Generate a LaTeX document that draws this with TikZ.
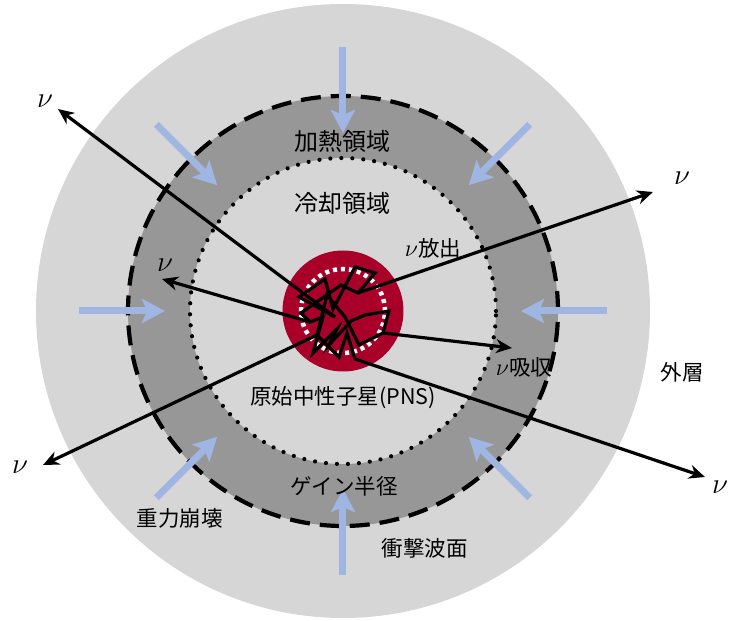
\documentclass[tikz,border=0pt]{standalone}
\usepackage{fix-cm}
\usepackage{fontspec}
\newfontfamily\jpfont{Noto Sans CJK JP}
\usetikzlibrary{arrows.meta}

\definecolor{outergray}{RGB}{214,214,214}
\definecolor{ringgray}{RGB}{151,151,151}
\definecolor{pnsred}{RGB}{168,0,40}
\definecolor{infall}{RGB}{160,182,226}

\begin{document}
\begin{tikzpicture}[x=1pt,y=1pt,
    label/.style={font=\jpfont\fontsize{21.5}{24}\selectfont, inner sep=0pt},
    biglabel/.style={font=\jpfont\fontsize{24}{28}\selectfont, inner sep=0pt},
    nulabel/.style={font=\fontsize{29}{32}\selectfont, inner sep=0pt},
    nuarrow/.style={-{Stealth[length=16pt,width=14pt]}, line width=3.2pt},
    collapse/.style={-{Stealth[length=23pt,width=24pt,inset=5pt]}, line width=7pt, infall},
    walk/.style={line width=3.2pt, line join=miter}]

    \useasboundingbox (-343,-310) rectangle (386,311);

    % layers from the outside in
    \fill[outergray] (0,0) circle (307);
    \fill[ringgray] (0,0) circle (215);
    \draw[line width=4.2pt, dash pattern=on 20pt off 10pt] (0,0) circle (215);
    \fill[outergray] (0,0) circle (153);
    \draw[line width=4.2pt, line cap=round, dash pattern=on 0pt off 11pt] (0,0) circle (153);
    \fill[pnsred] (0,0) circle (60.5);
    \draw[white, line width=4.5pt, dash pattern=on 4pt off 4pt] (0,0) circle (42);

    % infalling matter
    \foreach \a in {0,45,...,315}
        \draw[collapse] (\a:264) -- (\a:178);

    % random walk of the neutrinos inside the PNS
    \coordinate (s1) at (-8,-6);
    \coordinate (s2) at (15,18);
    \coordinate (s3) at (-33,-11);
    \coordinate (s4) at (-26,-24);
    \coordinate (s5) at (12,-48);
    \coordinate (s6) at (40,-22);

    \draw[walk] (s1) -- (-44,14) -- (-18,32) -- (-10,2) -- (12,44) -- (32,38) -- (s2)
        -- (-2,26) -- (-42,-2) -- (s3) -- (-20,-6) -- (-30,-42) -- (-6,-18)
        -- (-14,-34) -- (8,-10) -- (22,-4) -- (46,0) -- (s6) -- (16,-34)
        -- (2,-6) -- (-16,16) -- (s4) -- (-4,-46) -- (4,-22) -- (s5);

    % escaping neutrinos
    \coordinate (e1) at (-285,202);
    \coordinate (e2) at (310,119);
    \coordinate (e3) at (-181,32);
    \coordinate (e4) at (-300,-154);
    \coordinate (e5) at (362,-166);
    \coordinate (e6) at (169,-37);

    \draw[nuarrow] (s1) -- (e1);
    \draw[nuarrow] (s2) -- (e2);
    \draw[nuarrow] (s3) -- (e3);
    \draw[nuarrow] (s4) -- (e4);
    \draw[nuarrow] (s5) -- (e5);
    \draw[nuarrow] (s6) -- (e6);

    \node[nulabel] (nu1) at (-298,210) {$\nu$};
    \node[nulabel] (nu2) at (339,133) {$\nu$};
    \node[nulabel] (nu3) at (-178,46) {$\nu$};
    \node[nulabel] (nu4) at (-323,-156) {$\nu$};
    \node[nulabel] (nu5) at (377,-176) {$\nu$};

    % region names
    \node[biglabel] (heat) at (0,170) {加熱領域};
    \node[biglabel] (cool) at (0,108) {冷却領域};
    \node[label] (emit) at (90,63) {{\fontsize{24}{28}\selectfont$\nu$}放出};
    \node[label] (absorb) at (181,-56) {{\fontsize{24}{28}\selectfont$\nu$}吸収};
    \node[label] (pns) at (0,-87) {原始中性子星(PNS)};
    \node[label] (gain) at (1,-175) {ゲイン半径};
    \node[label] (grav) at (-163,-207) {重力崩壊};
    \node[label] (shock) at (82,-237) {衝撃波面};
    \node[label] (outer) at (339,-61) {外層};

\end{tikzpicture}
\end{document}
